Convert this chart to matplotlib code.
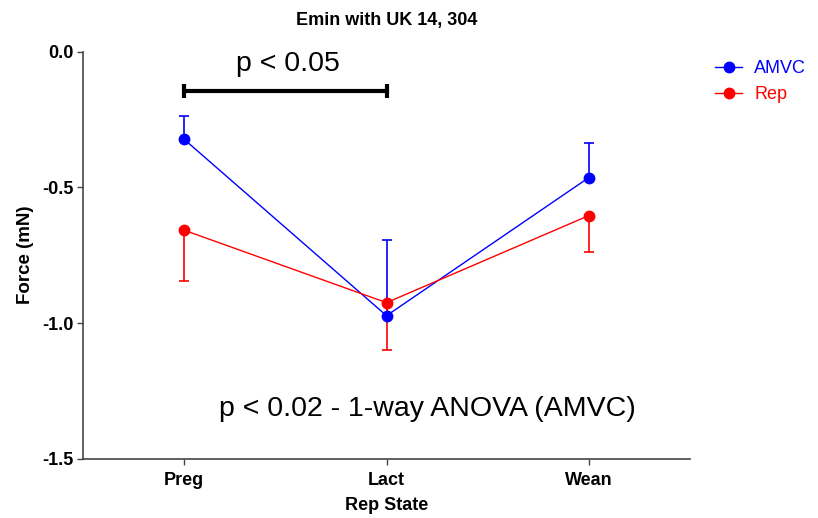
import matplotlib
matplotlib.use("Agg")
import matplotlib.pyplot as plt
import numpy as np

plt.rcParams['font.family'] = ['Liberation Sans', 'DejaVu Sans']

states = ['Preg', 'Lact', 'Wean']
amvc_mean = [-0.323, -0.973, -0.464]
amvc_err = [0.087, 0.280, 0.127]
rep_mean = [-0.658, -0.925, -0.604]
rep_err = [0.188, 0.173, 0.133]

fig = plt.figure(figsize=(8.18, 5.18), dpi=100)
ax = fig.add_axes([0.1015, 0.1145, 0.742, 0.7857])

x = np.arange(len(states))


def one_sided_errors(ax, x, mean, err, direction, color):
    # stem from the mean to the tip, with a cap only at the tip
    tips = np.array(mean) + direction * np.array(err)
    ax.vlines(x, mean, tips, color=color, linewidth=1.2, zorder=2)
    ax.plot(x, tips, linestyle='none', marker='_', markersize=7.5,
            markeredgewidth=1.2, color=color, zorder=2)


one_sided_errors(ax, x, amvc_mean, amvc_err, 1, '#0000ff')
one_sided_errors(ax, x, rep_mean, rep_err, -1, '#ff0000')
ax.plot(x, amvc_mean, color='#0000ff', marker='o', markersize=7.5,
        linewidth=1.0, label='AMVC', zorder=3)
ax.plot(x, rep_mean, color='#ff0000', marker='o', markersize=7.5,
        linewidth=1.0, label='Rep', zorder=3)

ax.set_xlim(-0.5, 2.5)
ax.set_ylim(-1.5, 0.0)
ax.set_yticks([0.0, -0.5, -1.0, -1.5])
ax.set_yticklabels(['0.0', '-0.5', '-1.0', '-1.5'], fontweight='bold', fontsize=13)
ax.set_xticks(x)
ax.set_xticklabels(states, fontweight='bold', fontsize=13)

for side in ['top', 'right']:
    ax.spines[side].set_visible(False)
for side in ['left', 'bottom']:
    ax.spines[side].set_color('#444444')
    ax.spines[side].set_linewidth(1.2)
ax.tick_params(axis='both', direction='out', length=4.5, width=1, color='#444444')
ax.tick_params(axis='y', pad=2)
ax.tick_params(axis='x', pad=5)

ax.set_xlabel('Rep State', fontweight='bold', fontsize=13, labelpad=6)
ax.set_ylabel('Force (mN)', fontweight='bold', fontsize=13.5, labelpad=6)
ax.set_title('Emin with UK 14, 304', fontweight='bold', fontsize=13, pad=19)

# significance bracket between Preg and Lact
ax.plot([0, 1], [-0.145, -0.145], color='black', linewidth=3, solid_capstyle='butt')
ax.plot([0, 0], [-0.12, -0.17], color='black', linewidth=3, solid_capstyle='butt')
ax.plot([1, 1], [-0.12, -0.17], color='black', linewidth=3, solid_capstyle='butt')
ax.text(0.512, -0.045, 'p < 0.05', ha='center', va='center', fontsize=20.5)
ax.text(1.2, -1.318, 'p < 0.02 - 1-way ANOVA (AMVC)', ha='center', va='center', fontsize=20.5)

leg = ax.legend(loc='upper left', bbox_to_anchor=(708 / 818, 1 - 53 / 518),
                bbox_transform=fig.transFigure, frameon=False, borderaxespad=0,
                fontsize=13, handlelength=1.5, handletextpad=0.65, labelspacing=0.5)
for text, line in zip(leg.get_texts(), leg.get_lines()):
    text.set_color(line.get_color())

fig.savefig('out.png', dpi=100)
